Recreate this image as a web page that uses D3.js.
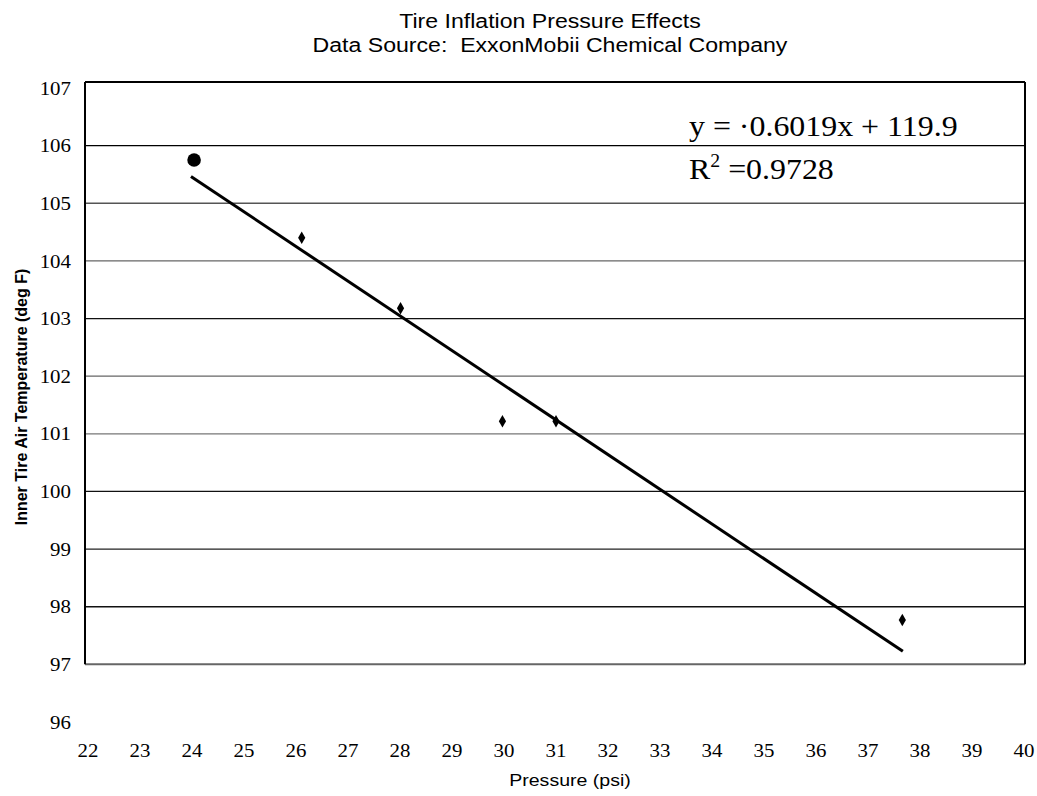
<!DOCTYPE html>
<html>
<head>
<meta charset="utf-8">
<script src="https://cdn.jsdelivr.net/npm/d3@7"></script>
<style>
  body { margin: 0; background: #fff; }
  svg { display: block; }
  text { white-space: pre; }
</style>
</head>
<body>
<div id="chart"></div>
<script>
// readings
var pressure = [24.04, 26.11, 28.01, 29.97, 31.0, 37.66];
var temperature = [105.75, 104.4, 103.18, 101.22, 101.22, 97.77];
var xTicks = d3.range(22, 41);
var yTicks = d3.range(96, 108);
var gridValues = [106, 105, 104, 103, 102, 101, 100, 99, 98];
var gridShade = ['#000', '#555', '#666', '#111', '#666', '#777', '#111', '#222', '#111'];
var trend = { slope: -0.6019, intercept: 119.9, from: 23.98, to: 37.67 };

var width = 1037;
var height = 796;
var stretch = 1.1; // the scan is a little wider than it is tall

var svg = d3.select('#chart')
  .append('svg')
  .attr('width', width)
  .attr('height', height);

var x = d3.scaleLinear().domain([22, 40]).range([88, 1024]);
var y = d3.scaleLinear().domain([96, 107]).range([722, 88]);

var frame = { left: 85, right: 1025, top: 82, bottom: y(97) };

function place(px, py) {
  return 'translate(' + px + ',' + py + ') scale(' + stretch + ',1)';
}

var sans = 'Liberation Sans, Arial, sans-serif';
var serif = 'Liberation Serif, Times New Roman, serif';

// title
svg.append('text')
  .attr('transform', place(550, 28))
  .attr('text-anchor', 'middle')
  .style('font-family', sans)
  .style('font-size', '21px')
  .text('Tire Inflation Pressure Effects');
svg.append('text')
  .attr('transform', place(550, 52))
  .attr('text-anchor', 'middle')
  .style('font-family', sans)
  .style('font-size', '21px')
  .text('Data Source:  ExxonMobii Chemical Company');

// gridlines
svg.selectAll('line.grid')
  .data(gridValues)
  .enter()
  .append('line')
  .attr('class', 'grid')
  .attr('x1', frame.left)
  .attr('x2', frame.right)
  .attr('y1', function(d) { return y(d); })
  .attr('y2', function(d) { return y(d); })
  .attr('stroke', function(d, i) { return gridShade[i]; })
  .attr('stroke-width', 1.3);

// plot frame
svg.append('line')
  .attr('x1', frame.left).attr('x2', frame.right)
  .attr('y1', frame.top).attr('y2', frame.top)
  .attr('stroke', '#000').attr('stroke-width', 2);
svg.append('line')
  .attr('x1', frame.left).attr('x2', frame.right)
  .attr('y1', frame.bottom).attr('y2', frame.bottom)
  .attr('stroke', '#666').attr('stroke-width', 2);
svg.append('line')
  .attr('x1', frame.left).attr('x2', frame.left)
  .attr('y1', frame.top).attr('y2', frame.bottom)
  .attr('stroke', '#000').attr('stroke-width', 2);
svg.append('line')
  .attr('x1', frame.right).attr('x2', frame.right)
  .attr('y1', frame.top).attr('y2', frame.bottom)
  .attr('stroke', '#000').attr('stroke-width', 2);

// tick labels
svg.selectAll('text.ytick')
  .data(yTicks)
  .enter()
  .append('text')
  .attr('class', 'ytick')
  .attr('transform', function(d) { return place(71, y(d)); })
  .attr('dy', '0.35em')
  .attr('text-anchor', 'end')
  .style('font-family', serif)
  .style('font-size', '19px')
  .text(function(d) { return d; });

svg.selectAll('text.xtick')
  .data(xTicks)
  .enter()
  .append('text')
  .attr('class', 'xtick')
  .attr('transform', function(d) { return place(x(d), 757); })
  .attr('text-anchor', 'middle')
  .style('font-family', serif)
  .style('font-size', '19px')
  .text(function(d) { return d; });

// axis titles
svg.append('text')
  .attr('transform', 'translate(570,786) scale(1.15,1)')
  .attr('text-anchor', 'middle')
  .style('font-family', sans)
  .style('font-size', '17px')
  .text('Pressure (psi)');
svg.append('text')
  .attr('transform', 'translate(27,397) rotate(-90)')
  .attr('text-anchor', 'middle')
  .style('font-family', sans)
  .style('font-size', '16px')
  .style('font-weight', 'bold')
  .text('Inner Tire Air Temperature (deg F)');

// trend line
svg.append('line')
  .attr('x1', x(trend.from))
  .attr('y1', y(trend.slope * trend.from + trend.intercept))
  .attr('x2', x(trend.to))
  .attr('y2', y(trend.slope * trend.to + trend.intercept))
  .attr('stroke', '#000')
  .attr('stroke-width', 3);

// points: first one drawn as a large dot, the rest as diamonds
var points = pressure.map(function(p, i) { return { x: p, y: temperature[i] }; });
svg.selectAll('path.pt')
  .data(points)
  .enter()
  .append('path')
  .attr('class', 'pt')
  .attr('transform', function(d) { return 'translate(' + x(d.x) + ',' + y(d.y) + ')'; })
  .attr('d', function(d, i) {
    return i === 0
      ? d3.symbol().type(d3.symbolCircle).size(145)()
      : d3.symbol().type(d3.symbolDiamond).size(45)();
  })
  .attr('fill', '#000');

// regression equation
svg.append('text')
  .attr('transform', place(689, 136))
  .style('font-family', serif)
  .style('font-size', '29px')
  .text('y = \u00b70.6019x + 119.9');
var r2 = svg.append('text')
  .attr('transform', place(689, 179))
  .style('font-family', serif)
  .style('font-size', '29px');
r2.append('tspan').text('R');
r2.append('tspan').attr('dy', -12).style('font-size', '18px').text('2');
r2.append('tspan').attr('dy', 12).text(' =0.9728');
</script>
</body>
</html>
